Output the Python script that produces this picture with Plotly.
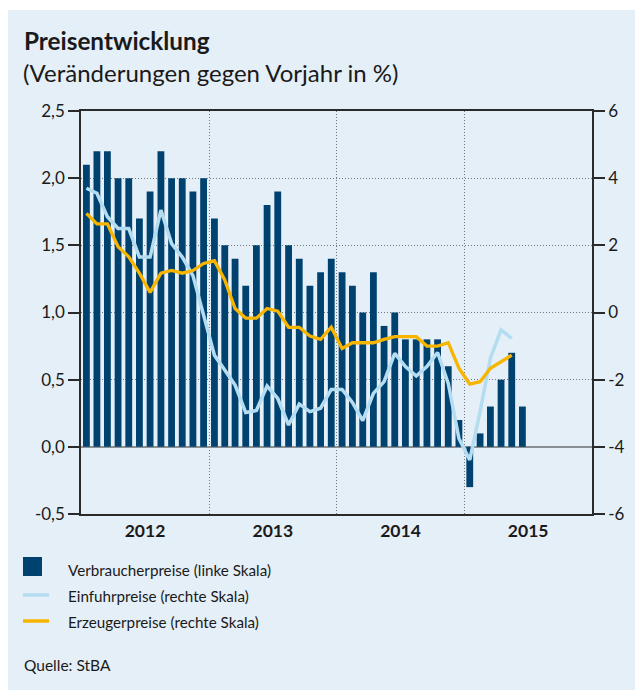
import plotly.graph_objects as go
import pandas as pd

# ---- data ----
bar_months = pd.date_range("2012-01-01", "2015-06-01", freq="MS").strftime("%Y-%m-%d").tolist()
line_months = pd.date_range("2012-01-01", "2015-05-01", freq="MS").strftime("%Y-%m-%d").tolist()

verbraucherpreise = [2.1, 2.2, 2.2, 2.0, 2.0, 1.7, 1.9, 2.2, 2.0, 2.0, 1.9, 2.0,
                     1.7, 1.5, 1.4, 1.2, 1.5, 1.8, 1.9, 1.5, 1.4, 1.2, 1.3, 1.4,
                     1.3, 1.2, 1.0, 1.3, 0.9, 1.0, 0.8, 0.8, 0.8, 0.8, 0.6, 0.2,
                     -0.3, 0.1, 0.3, 0.5, 0.7, 0.3]

einfuhrpreise = [3.7, 3.55, 2.85, 2.5, 2.5, 1.65, 1.65, 3.05, 2.05, 1.65, 1.1, -0.1,
                 -1.27, -1.71, -2.16, -2.98, -2.92, -2.19, -2.56, -3.35, -2.73, -2.95, -2.85, -2.29,
                 -2.29, -2.68, -3.22, -2.41, -2.06, -1.22, -1.61, -1.89, -1.61, -1.19, -2.11, -3.75,
                 -4.39, -2.95, -1.36, -0.52, -0.77]

erzeugerpreise = [2.95, 2.64, 2.64, 1.96, 1.66, 1.17, 0.6, 1.17, 1.25, 1.17, 1.25, 1.46,
                  1.54, 0.97, 0.12, -0.17, -0.17, 0.12, 0.04, -0.44, -0.44, -0.7, -0.8, -0.44,
                  -1.07, -0.9, -0.9, -0.9, -0.8, -0.72, -0.72, -0.72, -1.0, -1.0, -0.9, -1.66,
                  -2.13, -2.06, -1.66, -1.46, -1.27]

series_names = ["Verbraucherpreise (linke Skala)",
                "Einfuhrpreise (rechte Skala)",
                "Erzeugerpreise (rechte Skala)"]

left_tickvals = [-0.5, 0.0, 0.5, 1.0, 1.5, 2.0, 2.5]
left_ticktext = ["-0,5", "0,0", "0,5", "1,0", "1,5", "2,0", "2,5"]
right_tickvals = [-6, -4, -2, 0, 2, 4, 6]
right_ticktext = ["-6", "-4", "-2", "0", "2", "4", "6"]

title_text = "Preisentwicklung"
subtitle_text = "(Veränderungen gegen Vorjahr in %)"
source_text = "Quelle: StBA"

# ---- style ----
OFF = 8  # page body margin offset
W, H = 643 - OFF, 690 - OFF
L, R, T, B = 81 - OFF, 592 - OFF, 111 - OFF, 514 - OFF
BG = "#e5eff7"
C_BAR = "#00426f"
C_IMP = "#b5ddf2"
C_PPI = "#f8b500"
TXT = "#1a1a1a"
AX = "#2a2a2a"
GRID = "#6f7780"
FONT = "Lato"


def px(x):
    return (x - OFF - L) / (R - L)


def py(y):
    return (B - (y - OFF)) / (B - T)


fig = go.Figure()
fig.add_bar(x=bar_months, y=verbraucherpreise, name=series_names[0],
            marker=dict(color=C_BAR, line=dict(width=0)),
            xperiod="M1", xperiodalignment="middle", yaxis="y")
fig.add_scatter(x=line_months, y=einfuhrpreise, name=series_names[1], mode="lines",
                line=dict(color=C_IMP, width=3.5), xperiod="M1", xperiodalignment="middle",
                yaxis="y2")
fig.add_scatter(x=line_months, y=erzeugerpreise, name=series_names[2], mode="lines",
                line=dict(color=C_PPI, width=3.3), xperiod="M1", xperiodalignment="middle",
                yaxis="y2")

shapes = [
    dict(type="rect", xref="paper", yref="paper", x0=px(8), x1=px(660), y0=py(10), y1=py(700),
         fillcolor=BG, line=dict(width=0), layer="below"),
    # legend symbols
    dict(type="rect", xref="paper", yref="paper", x0=px(23), x1=px(42), y0=py(557), y1=py(576),
         fillcolor=C_BAR, line=dict(width=0)),
    dict(type="line", xref="paper", yref="paper", x0=px(23), x1=px(49), y0=py(595), y1=py(595),
         line=dict(color=C_IMP, width=3.5)),
    dict(type="line", xref="paper", yref="paper", x0=px(23), x1=px(49), y0=py(621), y1=py(621),
         line=dict(color=C_PPI, width=3.5)),
]

annotations = [
    dict(text="<b>" + title_text + "</b>", x=px(22), y=py(40), xref="paper", yref="paper",
         xanchor="left", yanchor="middle", showarrow=False, font=dict(size=24.3, color=TXT, family=FONT)),
    dict(text=subtitle_text, x=px(21), y=py(72), xref="paper", yref="paper",
         xanchor="left", yanchor="middle", showarrow=False, font=dict(size=24, color=TXT, family=FONT)),
    dict(text=source_text, x=px(22), y=py(665), xref="paper", yref="paper",
         xanchor="left", yanchor="middle", showarrow=False, font=dict(size=15.5, color=TXT, family=FONT)),
]
for name, yy in zip(series_names, [570, 596, 622]):
    annotations.append(dict(text=name, x=px(66), y=py(yy), xref="paper", yref="paper",
                            xanchor="left", yanchor="middle", showarrow=False,
                            font=dict(size=15.2, color=TXT, family=FONT)))

fig.update_layout(
    width=W, height=H,
    margin=dict(l=L, r=W - R, t=T, b=H - B, pad=0),
    paper_bgcolor="white", plot_bgcolor=BG,
    showlegend=False,
    bargap=0.34,
    font=dict(family=FONT, color=TXT, size=17),
    shapes=shapes, annotations=annotations,
    xaxis=dict(type="date", range=["2012-01-01", "2016-01-01"], dtick="M12", tick0="2012-01-01",
               ticklabelmode="period", tickformat="%Y", ticks="",
               tickfont=dict(size=17.5, family=FONT, color=TXT, weight="bold"),
               showgrid=True, gridcolor=GRID, griddash="1px,2px", gridwidth=1,
               showline=True, mirror=True, linecolor=AX, linewidth=1.5,
               fixedrange=True),
    yaxis=dict(range=[-0.5, 2.5], tickmode="array", tickvals=left_tickvals, ticktext=left_ticktext,
               ticks="outside", ticklen=11, tickwidth=1.5, tickcolor=AX,
               showline=True, linecolor=AX, linewidth=1.5,
               showgrid=True, gridcolor=GRID, griddash="1px,2px", gridwidth=1,
               zeroline=True, zerolinecolor="#8a8f94", zerolinewidth=1.5,
               tickfont=dict(size=17, family=FONT, color=TXT)),
    yaxis2=dict(range=[-6, 6], tickmode="array", tickvals=right_tickvals, ticktext=right_ticktext,
                overlaying="y", side="right",
                ticks="outside", ticklen=11, tickwidth=1.5, tickcolor=AX,
                showline=True, linecolor=AX, linewidth=1.5,
                showgrid=False, zeroline=False,
                tickfont=dict(size=17, family=FONT, color=TXT)),
)

fig.write_html("out.html")
